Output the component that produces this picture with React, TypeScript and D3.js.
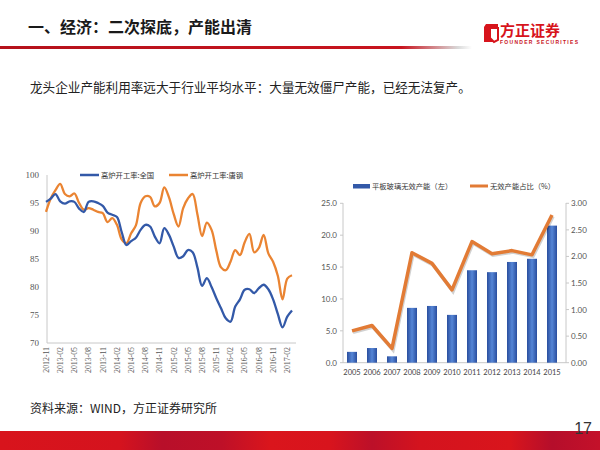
import React from "react";
import * as d3 from "d3";

// ---------- Left chart data (monthly, 2012-11 .. 2017-03) ----------
const tickLabels = [
  "2012-11", "2013-02", "2013-05", "2013-08", "2013-11", "2014-02", "2014-05", "2014-08", "2014-11",
  "2015-02", "2015-05", "2015-08", "2015-11", "2016-02", "2016-05", "2016-08", "2016-11", "2017-02",
];
const nationalRate = [
  95.2, 95.8, 96.6, 95.3, 94.9, 95.3, 95.2, 94.0, 93.4, 95.2, 95.3, 95.0, 94.5, 93.3, 92.9, 92.5,
  89.8, 87.5, 88.2, 88.8, 90.2, 91.1, 90.8, 89.0, 87.8, 90.5, 89.3, 87.2, 85.2, 85.5, 86.6, 86.2,
  83.5, 80.2, 81.6, 80.0, 78.0, 76.2, 74.4, 73.8, 76.5, 77.8, 79.5, 79.6, 78.9, 79.8, 80.4, 79.6,
  77.8, 75.2, 72.8, 74.7, 75.8,
];
const tanggangRate = [
  93.4, 95.8, 97.3, 98.4, 96.6, 96.2, 96.7, 95.0, 93.8, 94.1, 93.8, 93.4, 93.2, 91.6, 92.3, 91.1,
  88.5, 87.8, 89.6, 91.0, 95.0, 96.2, 96.1, 94.4, 95.0, 97.8, 96.0, 93.0, 90.8, 94.1, 95.8, 96.6,
  93.0, 89.1, 91.5, 90.2, 86.5, 83.5, 83.0, 84.5, 86.6, 85.7, 88.0, 89.5, 86.2, 87.0, 89.3, 86.0,
  84.5, 82.0, 77.8, 81.5, 82.1,
];
const leftSeriesNames = ["高炉开工率:全国", "高炉开工率:唐钢"];

// ---------- Right chart data ----------
const years = ["2005", "2006", "2007", "2008", "2009", "2010", "2011", "2012", "2013", "2014", "2015"];
const invalidCapacity = [1.7, 2.3, 1.0, 8.6, 8.9, 7.5, 14.5, 14.2, 15.8, 16.3, 21.5];
const invalidShare = [0.6, 0.7, 0.27, 2.07, 1.87, 1.37, 2.28, 2.05, 2.11, 2.03, 2.78];
const rightSeriesNames = ["平板玻璃无效产能（左）", "无效产能占比（%）"];
const leftAxisTicks = [0, 5, 10, 15, 20, 25];
const rightAxisTicks = [0, 0.5, 1, 1.5, 2, 2.5, 3];

const BLUE = "#3359A8";
const ORANGE = "#EA8432";
const SANS = "'Noto Sans CJK SC', 'Noto Sans', sans-serif";

export default function App() {
  const xL = d3.scaleLinear().domain([0, nationalRate.length - 1]).range([46, 292]);
  const yL = d3.scaleLinear().domain([70, 100]).range([343, 175]);
  const lineL = d3
    .line<number>()
    .x((_, i) => xL(i))
    .y((d) => yL(d))
    .curve(d3.curveCatmullRom.alpha(0.5));

  const xB = d3.scaleBand<string>().domain(years).range([342, 562]).paddingInner(0.5).paddingOuter(0.25);
  const yB = d3.scaleLinear().domain([0, 25]).range([362.7, 203.3]);
  const yP = d3.scaleLinear().domain([0, 3]).range([362.7, 203.3]);
  const lineR = d3
    .line<number>()
    .x((_, i) => (xB(years[i]) as number) + xB.bandwidth() / 2)
    .y((d) => yP(d));

  return (
    <svg width={600} height={450} style={{ position: "absolute", left: 0, top: 0, background: "#fff" }}>
      <defs>
        <linearGradient id="titleLine" x1="0" x2="1" y1="0" y2="0">
          <stop offset="0" stopColor="#B5121B" />
          <stop offset="0.85" stopColor="#C8141E" />
          <stop offset="0.97" stopColor="#D9D9D9" />
          <stop offset="1" stopColor="#FFFFFF" />
        </linearGradient>
        <linearGradient id="footer" x1="0" x2="1" y1="0" y2="0">
          <stop offset="0" stopColor="#D8141C" />
          <stop offset="0.2" stopColor="#D5131E" />
          <stop offset="0.27" stopColor="#B80F2A" />
          <stop offset="0.37" stopColor="#BE1028" />
          <stop offset="0.45" stopColor="#DA151C" />
          <stop offset="0.55" stopColor="#D8141D" />
          <stop offset="0.62" stopColor="#BC1029" />
          <stop offset="0.7" stopColor="#D4131E" />
          <stop offset="0.85" stopColor="#D9151C" />
          <stop offset="0.92" stopColor="#B50E2B" />
          <stop offset="1" stopColor="#C4112A" />
        </linearGradient>
        <linearGradient id="bar" x1="0" x2="1" y1="0" y2="0">
          <stop offset="0" stopColor="#2A4E9E" />
          <stop offset="0.5" stopColor="#5686D6" />
          <stop offset="1" stopColor="#2A4E9E" />
        </linearGradient>
      </defs>

      {/* Header */}
      <text x={28} y={33} fontFamily={SANS} fontSize={16} fontWeight={700} fill="#1a1a1a">
        一、经济：二次探底，产能出清
      </text>
      <rect x={0} y={46} width={472} height={3} fill="url(#titleLine)" />
      <path d="M486,24 L498,24 L498,28 L490,28 L490,38 L494,42 L484,42 L484,27 Z" fill="#D7141C" />
      <path d="M490,28 L498,28 L498,40 L494,42 L490,38 Z" fill="none" stroke="#D7141C" strokeWidth={2} />
      <text x={500} y={36} fontFamily={SANS} fontSize={15} fontWeight={700} fill="#D7141C">
        方正证券
      </text>
      <text x={500} y={44} fontFamily="'Liberation Sans', sans-serif" fontSize={5} fontWeight={700} fill="#C8141E" textLength={78}>
        FOUNDER SECURITIES
      </text>

      <text x={30} y={92} fontFamily={SANS} fontSize={12.6} fill="#222">
        龙头企业产能利用率远大于行业平均水平：大量无效僵尸产能，已经无法复产。
      </text>

      {/* Left chart */}
      <line x1={47} x2={47} y1={175} y2={343} stroke="#C8C8C8" strokeWidth={1} />
      <line x1={47} x2={296} y1={343} y2={343} stroke="#C8C8C8" strokeWidth={1} />
      {yL.ticks(6).map((t) => (
        <text key={t} x={39} y={yL(t) + 3} textAnchor="end" fontFamily="'Liberation Serif', serif" fontSize={9} fill="#555">
          {t}
        </text>
      ))}
      {tickLabels.map((lab, i) => (
        <text
          key={lab}
          transform={`translate(${xL(i * 3) + 2.8},347) rotate(-90)`}
          textAnchor="end"
          fontFamily="'Liberation Serif', serif"
          fontSize={7.8}
          fill="#555"
        >
          {lab}
        </text>
      ))}
      <path d={lineL(tanggangRate) || ""} fill="none" stroke={ORANGE} strokeWidth={2.3} />
      <path d={lineL(nationalRate) || ""} fill="none" stroke={BLUE} strokeWidth={2.3} />
      <line x1={80} x2={99} y1={175} y2={175} stroke={BLUE} strokeWidth={2.5} />
      <text x={101} y={178} fontFamily={SANS} fontSize={7.3} fill="#333">
        {leftSeriesNames[0]}
      </text>
      <line x1={169} x2={188} y1={175} y2={175} stroke={ORANGE} strokeWidth={2.5} />
      <text x={190} y={178} fontFamily={SANS} fontSize={7.3} fill="#333">
        {leftSeriesNames[1]}
      </text>

      {/* Right chart */}
      <line x1={343} x2={343} y1={203} y2={363} stroke="#C8C8C8" />
      <line x1={566} x2={566} y1={203} y2={363} stroke="#C8C8C8" />
      <line x1={343} x2={566} y1={362.7} y2={362.7} stroke="#C8C8C8" />
      {leftAxisTicks.map((t) => (
        <g key={"l" + t}>
          <line x1={340} x2={343} y1={yB(t)} y2={yB(t)} stroke="#C8C8C8" />
          <text x={337} y={yB(t) + 3} textAnchor="end" fontFamily="Lato, sans-serif" fontSize={8} fill="#555">
            {t.toFixed(1)}
          </text>
        </g>
      ))}
      {rightAxisTicks.map((t) => (
        <g key={"r" + t}>
          <line x1={566} x2={569} y1={yP(t)} y2={yP(t)} stroke="#C8C8C8" />
          <text x={571} y={yP(t) + 3} fontFamily="Lato, sans-serif" fontSize={8} fill="#555">
            {t.toFixed(2)}
          </text>
        </g>
      ))}
      {years.map((y, i) => (
        <g key={y}>
          <rect
            x={xB(y)}
            y={yB(invalidCapacity[i])}
            width={xB.bandwidth()}
            height={yB(0) - yB(invalidCapacity[i])}
            fill="url(#bar)"
          />
          <text
            x={(xB(y) as number) + xB.bandwidth() / 2}
            y={375}
            textAnchor="middle"
            fontFamily="Lato, sans-serif"
            fontSize={7.5}
            fill="#444"
          >
            {y}
          </text>
        </g>
      ))}
      <path
        d={lineR(invalidShare) || ""}
        fill="none"
        stroke="#000"
        strokeOpacity={0.18}
        strokeWidth={3.5}
        transform="translate(1,1.5)"
      />
      <path d={lineR(invalidShare) || ""} fill="none" stroke="#E27B35" strokeWidth={3.5} strokeLinejoin="round" />
      <rect x={353} y={184} width={17} height={4.5} fill={BLUE} />
      <text x={372} y={189} fontFamily={SANS} fontSize={7.3} fill="#333">
        {rightSeriesNames[0]}
      </text>
      <line x1={470} x2={488} y1={186} y2={186} stroke="#E27B35" strokeWidth={3} />
      <text x={490} y={189} fontFamily={SANS} fontSize={7.3} fill="#333">
        {rightSeriesNames[1]}
      </text>

      {/* Source */}
      <text x={30} y={413} fontFamily={SANS} fontSize={12} fill="#222">
        资料来源：WIND，方正证券研究所
      </text>

      {/* Footer */}
      <rect x={0} y={431} width={600} height={19} fill="url(#footer)" />
      <text x={592} y={434} textAnchor="end" fontFamily="'Liberation Sans', sans-serif" fontSize={16} fill="#333">
        17
      </text>
    </svg>
  );
}
